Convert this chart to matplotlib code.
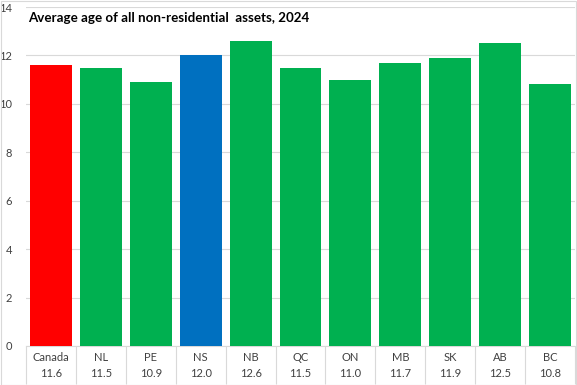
import numpy as np
import matplotlib.pyplot as plt
from matplotlib.patches import Rectangle

regions = ["Canada", "NL", "PE", "NS", "NB", "QC", "ON", "MB", "SK", "AB", "BC"]
avg_age = [11.6, 11.5, 10.9, 12.0, 12.6, 11.5, 11.0, 11.7, 11.9, 12.5, 10.8]
colors = ["#FF0000", "#00B050", "#00B050", "#0070C0", "#00B050", "#00B050",
          "#00B050", "#00B050", "#00B050", "#00B050", "#00B050"]

plt.rcParams["font.family"] = ["Lato", "DejaVu Sans"]

fig = plt.figure(figsize=(5.77, 3.85), dpi=100)
ax = fig.add_axes([26 / 577, 1 - 346 / 385, 549 / 577, 339 / 385])

x = np.arange(len(regions))
ax.bar(x, avg_age, width=0.84, color=colors, zorder=3)

ax.set_xlim(-0.5, len(regions) - 0.5)
ax.set_ylim(0, 14)
ax.set_yticks(range(0, 15, 2))
ax.grid(axis="y", color="#D9D9D9", linewidth=0.8, zorder=0)
ax.tick_params(axis="y", length=0, labelsize=8, colors="#404040", pad=10)

# two-line category labels: name and value
labels = [f"{r}\n{v:.1f}" for r, v in zip(regions, avg_age)]
ax.set_xticks(x)
ax.set_xticklabels(labels, fontsize=8, color="#404040", linespacing=1.6)
ax.tick_params(axis="x", length=0, pad=4)

# table-like separators under the axis
ax.set_xticks(np.arange(-0.5, len(regions), 1), minor=True)
ax.tick_params(axis="x", which="minor", length=27, width=0.8, color="#D9D9D9", direction="out")

for s in ["top", "right", "left"]:
    ax.spines[s].set_visible(False)
ax.spines["bottom"].set_color("#D9D9D9")

ax.text(28 / 577, 1 - 18 / 385, "Average age of all non-residential  assets, 2024",
        transform=fig.transFigure, fontsize=9.6, fontweight="bold", va="center", ha="left")

fig.patches.append(Rectangle((0.5 / 577, 0.5 / 385), 575.5 / 577, 383.5 / 385,
                             transform=fig.transFigure, fill=False,
                             edgecolor="#D9D9D9", linewidth=0.8))

fig.savefig("out.png", dpi=100)
